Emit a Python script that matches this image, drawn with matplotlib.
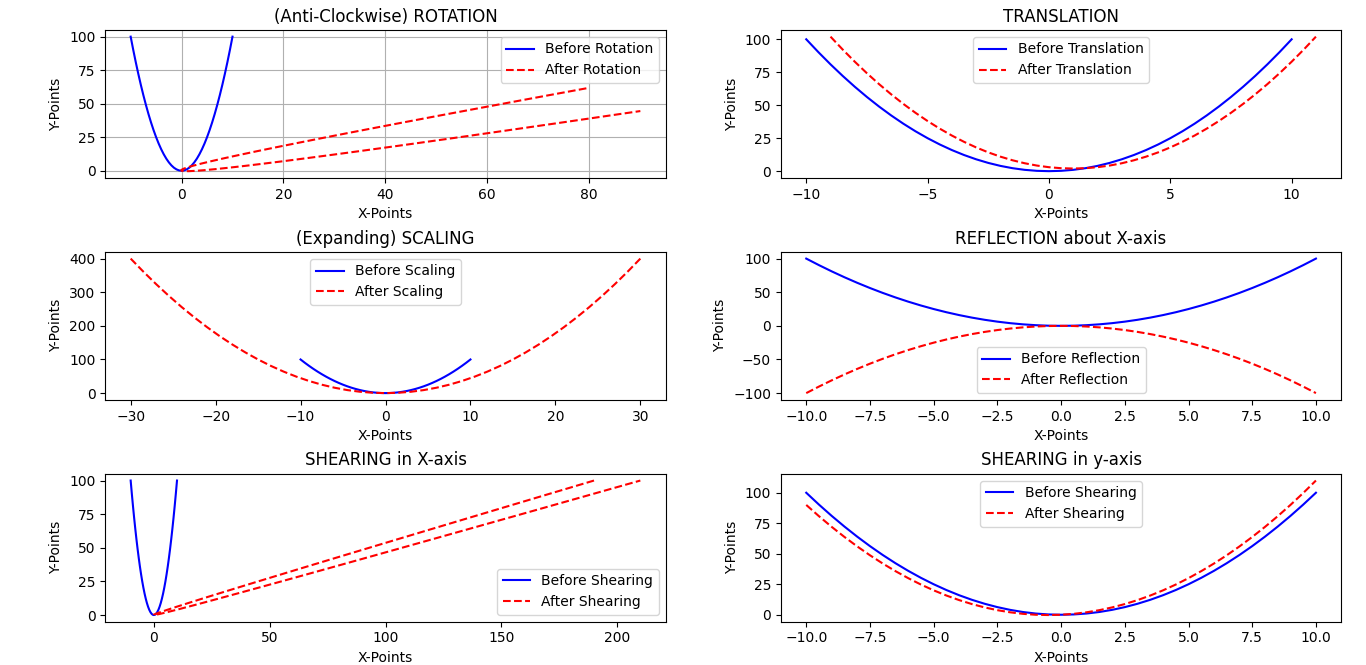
import matplotlib
matplotlib.use('Agg')
import matplotlib.pyplot as plt

# original points (y = x^2 read at half steps)
X_POINTS = [-10, -9.5, -9, -8.5, -8, -7.5, -7, -6.5, -6, -5.5, -5,
            -4.5, -4, -3.5, -3, -2.5, -2, -1.5, -1, -0.5, 0,
            0.5, 1, 1.5, 2, 2.5, 3, 3.5, 4, 4.5, 5,
            5.5, 6, 6.5, 7, 7.5, 8, 8.5, 9, 9.5, 10]
Y_POINTS = [100, 90.25, 81, 72.25, 64, 56.25, 49, 42.25, 36, 30.25, 25,
            20.25, 16, 12.25, 9, 6.25, 4, 2.25, 1, 0.25, 0,
            0.25, 1, 2.25, 4, 6.25, 9, 12.25, 16, 20.25, 25,
            30.25, 36, 42.25, 49, 56.25, 64, 72.25, 81, 90.25, 100]

# after rotation
ROT_X = [79.50, 71.50, 63.92, 56.76, 50.03, 43.73, 37.84, 32.38, 27.35, 22.74, 18.55,
         14.79, 11.45, 8.53, 6.04, 3.98, 2.33, 1.11, 0.32, -0.05, 0.0,
         0.48, 1.38, 2.70, 4.45, 6.62, 9.22, 12.24, 15.69, 19.56, 23.85,
         28.57, 33.71, 39.27, 45.26, 51.67, 58.51, 65.77, 73.46, 81.56, 90.10]
ROT_Y = [61.47, 55.88, 50.55, 45.49, 40.70, 36.17, 31.90, 27.90, 24.17, 20.69, 17.49,
         14.55, 11.87, 9.46, 7.31, 5.43, 3.82, 2.46, 1.38, 0.56, 0.0,
         -0.29, -0.32, -0.08, 0.42, 1.19, 2.23, 3.52, 5.09, 6.91, 9.01,
         11.37, 13.99, 16.88, 20.03, 23.45, 27.13, 31.08, 35.29, 39.77, 44.51]

# after translation
TRANS_X = [-9, -8.5, -8, -7.5, -7, -6.5, -6, -5.5, -5, -4.5, -4,
           -3.5, -3, -2.5, -2, -1.5, -1, -0.5, 0, 0.5, 1,
           1.5, 2, 2.5, 3, 3.5, 4, 4.5, 5, 5.5, 6,
           6.5, 7, 7.5, 8, 8.5, 9, 9.5, 10, 10.5, 11]
TRANS_Y = [102, 92.25, 83, 74.25, 66, 58.25, 51, 44.25, 38, 32.25, 27,
           22.25, 18, 14.25, 11, 8.25, 6, 4.25, 3, 2.25, 2,
           2.25, 3, 4.25, 6, 8.25, 11, 14.25, 18, 22.25, 27,
           32.25, 38, 44.25, 51, 58.25, 66, 74.25, 83, 92.25, 102]

# after scaling
SCALE_X = [-30, -28.5, -27, -25.5, -24, -22.5, -21, -19.5, -18, -16.5, -15,
           -13.5, -12, -10.5, -9, -7.5, -6, -4.5, -3, -1.5, 0,
           1.5, 3, 4.5, 6, 7.5, 9, 10.5, 12, 13.5, 15,
           16.5, 18, 19.5, 21, 22.5, 24, 25.5, 27, 28.5, 30]
SCALE_Y = [400, 361, 324, 289, 256, 225, 196, 169, 144, 121, 100,
           81, 64, 49, 36, 25, 16, 9, 4, 1, 0,
           1, 4, 9, 16, 25, 36, 49, 64, 81, 100,
           121, 144, 169, 196, 225, 256, 289, 324, 361, 400]

# after reflection
REFL_Y = [-100, -90.25, -81, -72.25, -64, -56.25, -49, -42.25, -36, -30.25, -25,
          -20.25, -16, -12.25, -9, -6.25, -4, -2.25, -1, -0.25, 0,
          -0.25, -1, -2.25, -4, -6.25, -9, -12.25, -16, -20.25, -25,
          -30.25, -36, -42.25, -49, -56.25, -64, -72.25, -81, -90.25, -100]

# after shearing in x
SHEAR_X = [190, 171, 153, 136, 120, 105, 91, 78, 66, 55, 45,
           36, 28, 21, 15, 10, 6, 3, 1, 0, 0,
           1, 3, 6, 10, 15, 21, 28, 36, 45, 55,
           66, 78, 91, 105, 120, 136, 153, 171, 190, 210]

# after shearing in y
SHEAR_Y = [90, 80.75, 72, 63.75, 56, 48.75, 42, 35.75, 30, 24.75, 20,
           15.75, 12, 8.75, 6, 3.75, 2, 0.75, 0, -0.25, 0,
           0.75, 2, 3.75, 6, 8.75, 12, 15.75, 20, 24.75, 30,
           35.75, 42, 48.75, 56, 63.75, 72, 80.75, 90, 99.75, 110]


def draw(ax, title, before, after, names, legend_loc, grid=False):
    ax.plot(before[0], before[1], 'b', label=names[0])
    ax.plot(after[0], after[1], 'r--', label=names[1])
    ax.set_title(title)
    ax.set_xlabel('X-Points')
    ax.set_ylabel('Y-Points')
    ax.legend(loc=legend_loc)
    if grid:
        ax.grid(True)


def main():
    fig, axes = plt.subplots(3, 2, figsize=(13.66, 6.65), dpi=100)
    fig.subplots_adjust(left=0.077, right=0.982, top=0.955, bottom=0.065,
                        wspace=0.205, hspace=0.5)

    base = (X_POINTS, Y_POINTS)
    draw(axes[0][0], '(Anti-Clockwise) ROTATION', base, (ROT_X, ROT_Y),
         ('Before Rotation', 'After Rotation'), 'upper right', grid=True)
    draw(axes[0][1], 'TRANSLATION', base, (TRANS_X, TRANS_Y),
         ('Before Translation', 'After Translation'), 'upper center')
    draw(axes[1][0], '(Expanding) SCALING', base, (SCALE_X, SCALE_Y),
         ('Before Scaling', 'After Scaling'), 'upper center')
    draw(axes[1][1], 'REFLECTION about X-axis', base, (X_POINTS, REFL_Y),
         ('Before Reflection', 'After Reflection'), 'lower center')
    draw(axes[2][0], 'SHEARING in X-axis', base, (SHEAR_X, Y_POINTS),
         ('Before Shearing', 'After Shearing'), 'lower right')
    draw(axes[2][1], 'SHEARING in y-axis', base, (X_POINTS, SHEAR_Y),
         ('Before Shearing', 'After Shearing'), 'upper center')

    fig.savefig('out.png', dpi=100)


if __name__ == '__main__':
    main()
